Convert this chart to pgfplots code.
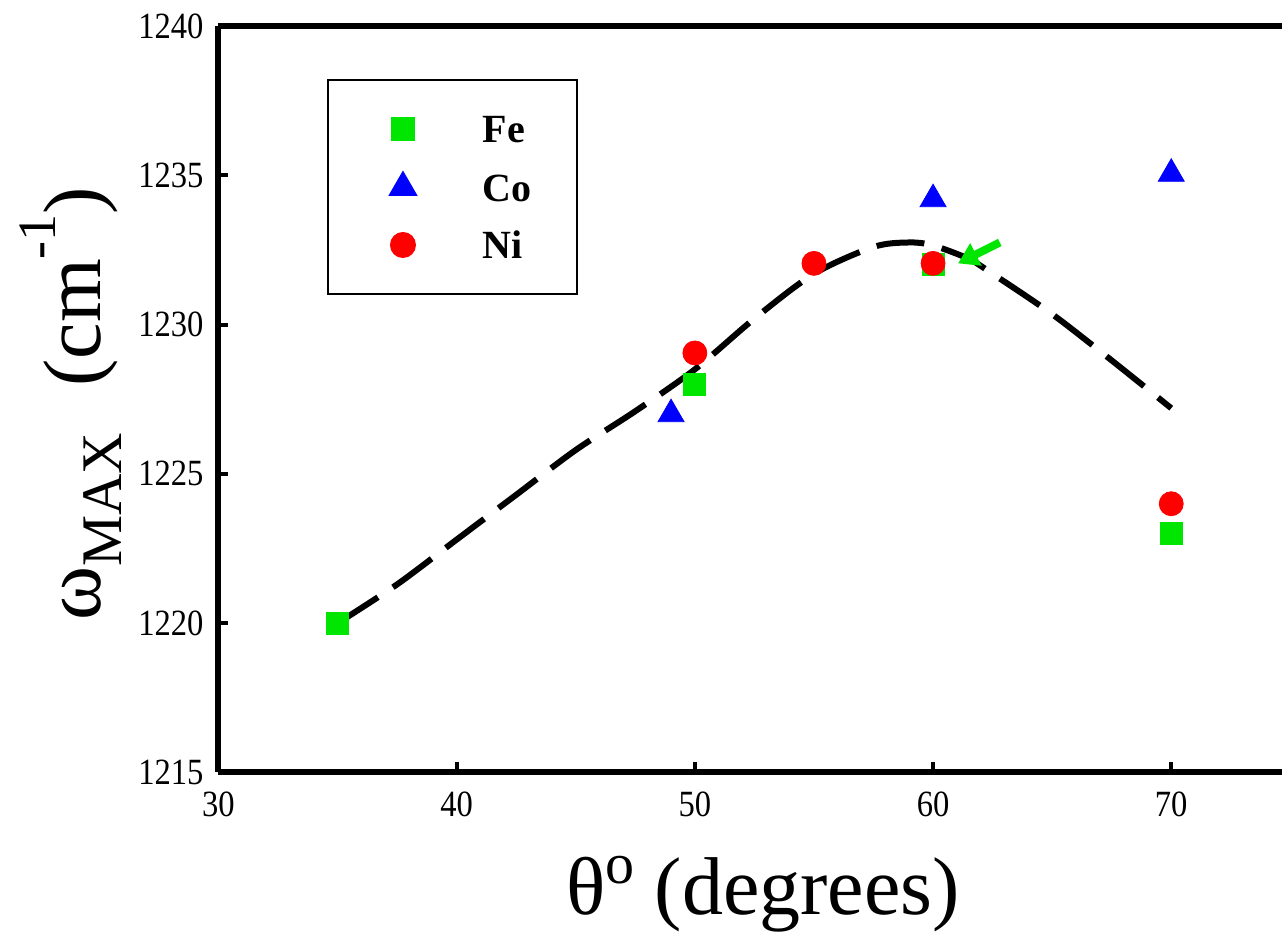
\documentclass[border=0pt]{standalone}
\usepackage{pgfplots}
\pgfplotsset{compat=1.18}
\usetikzlibrary{arrows.meta}
\usepackage{fontspec}
\setmainfont{Liberation Serif}
\newfontfamily\tickfont[FakeStretch=0.88]{Liberation Serif}
\definecolor{fegreen}{RGB}{0,230,0}
\definecolor{coblue}{RGB}{0,0,255}
\definecolor{nired}{RGB}{255,0,0}
\begin{document}
\begin{tikzpicture}
\begin{axis}[
  name=ax,
  scale only axis,
  width=531.75pt, height=373.25pt,
  xmin=30, xmax=74.65, ymin=1215, ymax=1240,
  axis lines=left,
  axis line style={-, line width=3pt},
  tick align=inside,
  major tick length=5pt,
  tick style={line width=2pt, black},
  xtick={30,40,50,60,70},
  ytick={1215,1220,1225,1230,1235,1240},
  /pgf/number format/assume math mode=true,
  /pgf/number format/1000 sep={},
  ticklabel style={font=\tickfont\fontsize{18.5}{20}\selectfont},
  yticklabel style={xshift=-4pt},
  xticklabel style={yshift=-6pt},
  xlabel={θ\raisebox{0.38em}{\fontsize{29}{30}\selectfont o} (degrees)},
  ylabel={ω\textsubscript{MAX}\hspace{0.3em} (cm\raisebox{0.55em}{\fontsize{27}{30}\selectfont -1})},
  xlabel style={font=\fontsize{41}{48}\selectfont, at={(rel axis cs:0.512,-0.163)}, anchor=center},
  ylabel style={font=\fontsize{41}{48}\selectfont, at={(rel axis cs:-0.139,0.494)}, anchor=center},
  clip=false,
  legend image code/.code={\path[draw=none,fill=none] (0pt,-7pt) rectangle (30pt,7pt); \draw[#1] plot coordinates {(15pt,0pt)};},
  legend style={at={(rel axis cs:0.102,0.929)}, anchor=north west, draw=black, line width=1pt,
    inner xsep=22.5pt, inner ysep=17.5pt, column sep=25pt, row sep=14.75pt,
    font=\bfseries\fontsize{20}{24}\selectfont,
    nodes={text height=14pt, text depth=0pt, inner sep=0pt}},
  legend cell align=left,
]
\addplot[only marks, mark=square*, mark size=5.5pt, color=fegreen] coordinates {
  (35,1220) (50,1228) (60,1232) (70,1223)};
\addlegendentry{Fe}
\addplot[only marks, mark=triangle*, mark size=7.5pt, color=coblue] coordinates {
  (49,1227) (60,1234.2) (70,1235.05)};
\addlegendentry{Co}
\addplot[only marks, mark=*, mark size=6pt, color=nired] coordinates {
  (50,1229.05) (55,1232.05) (60,1232.05) (70,1224)};
\addlegendentry{Ni}
\addplot[forget plot, black, line width=3pt, smooth, dash pattern=on 24pt off 9pt] coordinates {
  (35,1220) (37.5,1221.3) (40,1222.8) (42.5,1224.3) (45,1225.8) (47.5,1227.1)
  (50,1228.5) (52.5,1230.2) (55,1231.7) (57.5,1232.6) (59,1232.75) (60,1232.65)
  (61.5,1232.2) (62.5,1231.7) (65,1230.35) (67.5,1228.8) (70,1227.2)};
\draw[fegreen, line width=4pt, -{Triangle[length=10pt,width=12pt]}] (axis cs:62.8,1232.75) -- (axis cs:61.05,1232.05);
\draw[line width=3pt] (rel axis cs:0,1) -- (rel axis cs:1,1);
\coordinate (O) at (rel axis cs:0,0);
\coordinate (TR) at (rel axis cs:1,1);
\end{axis}
\pgfresetboundingbox
\path ([shift={(-109.25pt,-80.75pt)}]O) rectangle ([shift={(0pt,13pt)}]TR);
\end{tikzpicture}
\end{document}
